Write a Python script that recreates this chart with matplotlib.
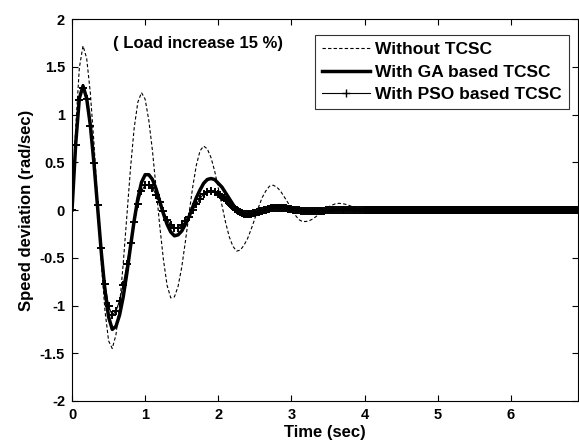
import numpy as np
import matplotlib
matplotlib.use("Agg")
from matplotlib import pyplot as plt

plt.rcParams['font.family'] = ['Liberation Sans', 'DejaVu Sans']
plt.rcParams['font.weight'] = 'bold'

# sampling step of the read-off values (sec)
dt = 0.05

# speed deviation (rad/sec), one value every 0.05 s from t = 0
without_tcsc = [
    0.00, 0.86, 1.49, 1.72, 1.59, 1.23, 0.70, 0.07, -0.55, -1.05,
    -1.37, -1.45, -1.31, -1.00, -0.56, -0.06, 0.44, 0.86, 1.13, 1.23,
    1.16, 0.94, 0.62, 0.23, -0.17, -0.52, -0.79, -0.92, -0.91, -0.80,
    -0.60, -0.33, -0.04, 0.24, 0.47, 0.62, 0.67, 0.64, 0.55, 0.41,
    0.23, 0.05, -0.13, -0.28, -0.38, -0.43, -0.42, -0.37, -0.30, -0.20,
    -0.09, 0.03, 0.13, 0.20, 0.25, 0.26, 0.24, 0.20, 0.14, 0.08,
    0.01, -0.05, -0.10, -0.12, -0.12, -0.11, -0.09, -0.06, -0.03, 0.00,
    0.03, 0.05, 0.065, 0.07, 0.067, 0.058, 0.045, 0.029, 0.011, -0.005,
    -0.018, -0.027, -0.030, -0.028, -0.022, -0.014, -0.005, 0.002, 0.007, 0.010,
    0.010, 0.008, 0.005, 0.002, 0.0, 0.0, 0.0, 0.0, 0.0, 0.0,
] + [0.0] * 40

ga_tcsc = [
    0.00, 0.69, 1.17, 1.30, 1.17, 0.89, 0.49, 0.03, -0.44, -0.84,
    -1.12, -1.25, -1.22, -1.10, -0.91, -0.66, -0.38, -0.11, 0.12, 0.29,
    0.37, 0.37, 0.32, 0.22, 0.09, -0.04, -0.15, -0.23, -0.27, -0.26,
    -0.22, -0.15, -0.07, 0.03, 0.13, 0.21, 0.28, 0.32, 0.33, 0.32,
    0.28, 0.24, 0.18, 0.12, 0.06, 0.00, -0.035, -0.056, -0.060, -0.055,
    -0.045, -0.028, -0.010, 0.008, 0.024, 0.035, 0.040, 0.039, 0.035, 0.028,
    0.018, 0.008, -0.002, -0.010, -0.016, -0.019, -0.020, -0.019, -0.015, -0.010,
    -0.005, 0.0, 0.004, 0.007, 0.008, 0.008, 0.006, 0.004, 0.002, 0.0,
] + [0.0] * 60

# PSO: 0 - 1.95 s every 0.05 s
pso_early = [
    0.00, 0.68, 1.15, 1.28, 1.16, 0.88, 0.49, 0.05, -0.40, -0.77,
    -1.01, -1.10, -1.06, -0.95, -0.78, -0.57, -0.35, -0.13, 0.06, 0.20,
    0.26, 0.26, 0.23, 0.16, 0.08, -0.01, -0.10, -0.16, -0.19, -0.19,
    -0.16, -0.12, -0.07, 0.00, 0.06, 0.12, 0.17, 0.19, 0.20, 0.19,
]
# PSO: 2.0 - 3.975 s every 0.025 s (simulation steps get denser here)
pso_mid_dt = 0.025
pso_mid = [
    0.17, 0.155, 0.14, 0.125, 0.11, 0.09, 0.07, 0.05, 0.03, 0.015,
    0.00, -0.013, -0.025, -0.032, -0.038, -0.040, -0.040, -0.039, -0.037, -0.034,
    -0.030, -0.025, -0.020, -0.014, -0.008, -0.002, 0.004, 0.009, 0.014, 0.017,
    0.020, 0.022, 0.023, 0.023, 0.022, 0.021, 0.019, 0.017, 0.014, 0.011,
    0.008, 0.005, 0.002, -0.001, -0.004, -0.006, -0.008, -0.010, -0.011, -0.012,
    -0.012, -0.012, -0.012, -0.012, -0.011, -0.010, -0.008, -0.007, -0.005, -0.004,
    -0.002, -0.001, 0.0, 0.001, 0.002, 0.003, 0.004, 0.004, 0.004, 0.004,
    0.004, 0.004, 0.003, 0.003, 0.002, 0.002, 0.001, 0.001, 0.0, 0.0,
]
# PSO: settled at zero from 4 s on, dense steps
pso_settled = 0.0
pso_tail_dt = 0.01

time = np.arange(len(ga_tcsc)) * dt
t_early = np.arange(len(pso_early)) * dt
t_mid = 2.0 + np.arange(len(pso_mid)) * pso_mid_dt
t_tail = np.arange(4.0, 6.95, pso_tail_dt)
pso_time = np.concatenate([t_early, t_mid, t_tail])
pso_vals = np.concatenate([pso_early, pso_mid, np.full(len(t_tail), pso_settled)])

x_ticks = [0, 1, 2, 3, 4, 5, 6]
y_ticks = [-2, -1.5, -1, -0.5, 0, 0.5, 1, 1.5, 2]
y_tick_labels = ['-2', '-1.5', '-1', '-0.5', '0', '0.5', '1', '1.5', '2']

fig = plt.figure(figsize=(5.79, 4.42), dpi=100)
ax = fig.add_axes([0.1244, 0.0928, 0.874, 0.864])

ax.plot(time, without_tcsc, color='black', lw=0.8, ls=(0, (3, 2)), label='Without TCSC')
ax.plot(time, ga_tcsc, color='black', lw=2.5, label='With GA based TCSC')
ax.plot(pso_time, pso_vals, color='black', lw=0.8, marker='+', ms=6, mew=1.4,
        label='With PSO based TCSC')

ax.set_xlim(0, 6.92)
ax.set_ylim(-2, 2)
ax.set_xticks(x_ticks)
ax.set_yticks(y_ticks)
ax.set_yticklabels(y_tick_labels)
ax.tick_params(direction='in', top=True, right=True, labelsize=10.5, length=4,
               width=0.8, pad=5)
for s in ax.spines.values():
    s.set_linewidth(0.8)

ax.set_xlabel('Time (sec)', fontsize=12, fontweight='bold', labelpad=2)
ax.set_ylabel('Speed deviation (rad/sec)', fontsize=12, fontweight='bold', labelpad=4)

ax.text(1.72, 1.74, '( Load increase 15 %)', ha='center', va='center',
        fontsize=12, fontweight='bold')

leg = ax.legend(loc='upper right', bbox_to_anchor=(0.982, 0.958), numpoints=1,
                fontsize=12.5, frameon=True, fancybox=False, edgecolor='black',
                borderaxespad=0, handlelength=2.8, handletextpad=0.3,
                labelspacing=0.43, borderpad=0.4)
leg.get_frame().set_linewidth(0.8)
for h in leg.legend_handles:
    h.set_markersize(6)
    h.set_markeredgewidth(1)

plt.savefig('out.png', dpi=100)
